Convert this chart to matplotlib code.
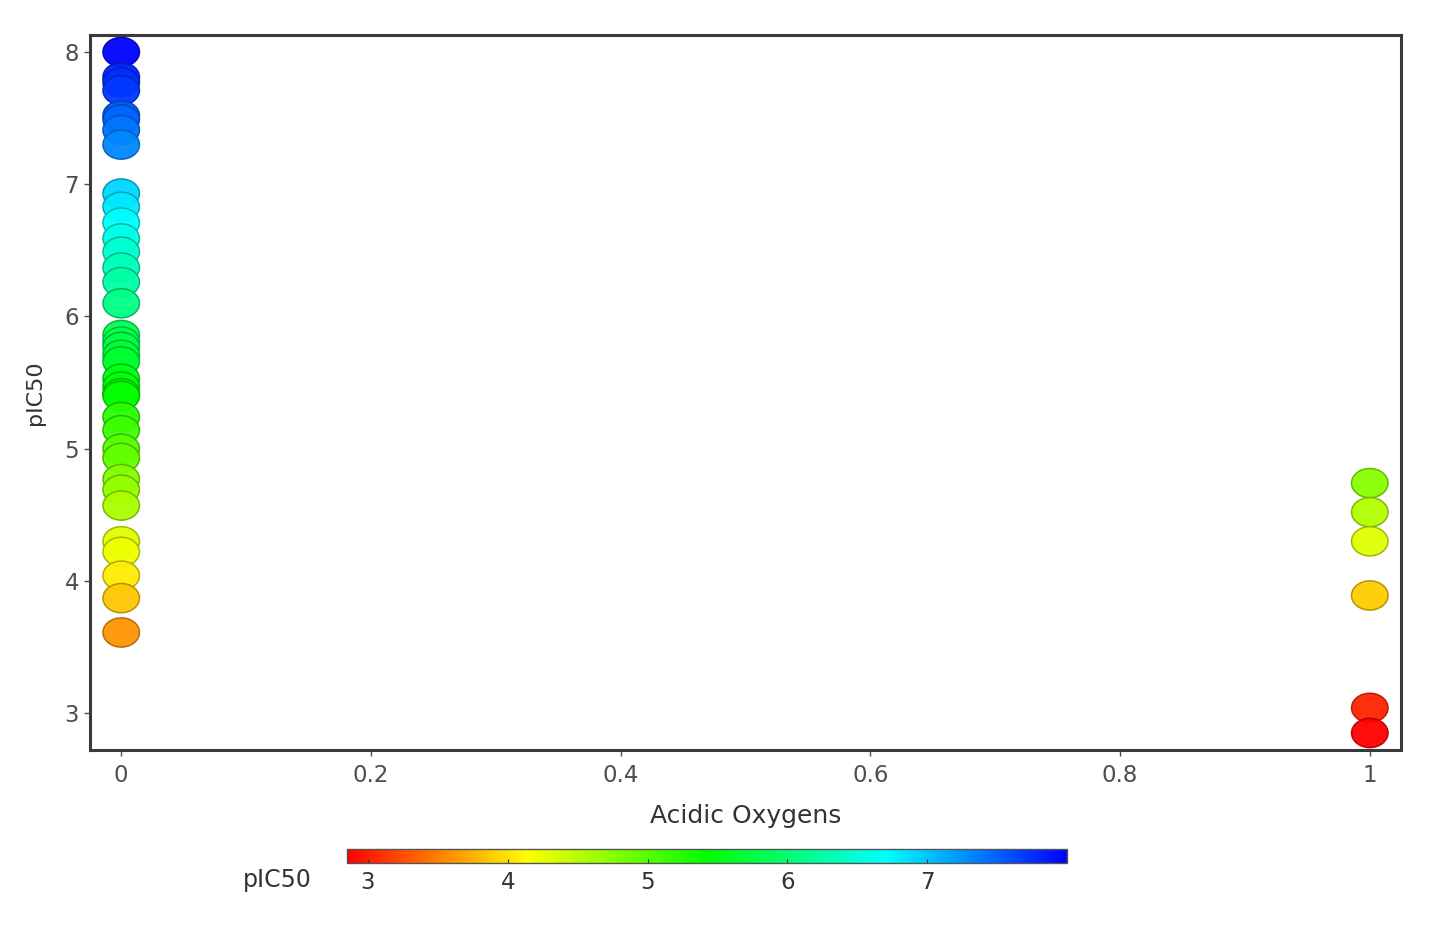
import numpy as np
import matplotlib
matplotlib.use("Agg")
import matplotlib.pyplot as plt
from matplotlib.colors import LinearSegmentedColormap, Normalize
from matplotlib.path import Path

# ---- data ----
x_left = 0
pic50_left = [8.00, 7.81, 7.77, 7.71, 7.52, 7.49, 7.41, 7.30,
              6.93, 6.83, 6.71, 6.59, 6.49, 6.37, 6.26, 6.10,
              5.86, 5.81, 5.77, 5.71, 5.66, 5.53, 5.47, 5.42, 5.40,
              5.24, 5.14, 5.00, 4.93, 4.77, 4.69, 4.57,
              4.30, 4.22, 4.04, 3.87, 3.61]
x_right = 1
pic50_right = [4.74, 4.52, 4.30, 3.89, 3.04, 2.85]

x_ticks = [0, 0.2, 0.4, 0.6, 0.8, 1]
x_tick_labels = ["0", "0.2", "0.4", "0.6", "0.8", "1"]
y_ticks = [3, 4, 5, 6, 7, 8]
cbar_ticks = [3, 4, 5, 6, 7]

x_vals = [x_left] * len(pic50_left) + [x_right] * len(pic50_right)
y_vals = pic50_left + pic50_right

plt.rcParams['font.family'] = ['DejaVu Sans']

cmap = LinearSegmentedColormap.from_list(
    "rainbow5", ["#FF0000", "#FFFF00", "#00FF00", "#00FFFF", "#0000FF"])
norm = Normalize(vmin=min(y_vals), vmax=max(y_vals))

fig = plt.figure(figsize=(14.5, 9.4), dpi=100)
W, H = 1450, 940
ax = fig.add_axes([90 / W, 1 - 750 / H, (1401 - 90) / W, (750 - 35) / H])

# ellipse marker
t = np.linspace(0, 2 * np.pi, 61)
ell = Path(np.column_stack([np.cos(t), 0.8 * np.sin(t)]), closed=True)

face = cmap(norm(np.array(y_vals)))
edge = face.copy()
edge[:, :3] = edge[:, :3] * 0.7
ax.scatter(x_vals, y_vals, c=face, edgecolors=edge, s=690, marker=ell,
           linewidths=1.1, alpha=0.95, zorder=3)

xr = max(x_vals) - min(x_vals)
yr = max(y_vals) - min(y_vals)
ax.set_xlim(min(x_vals) - 0.025 * xr, max(x_vals) + 0.025 * xr)
ax.set_ylim(min(y_vals) - 0.025 * yr, max(y_vals) + 0.025 * yr)

ax.set_xticks(x_ticks)
ax.set_xticklabels(x_tick_labels)
ax.set_yticks(y_ticks)
ax.tick_params(axis='both', colors='#4D4D4D', labelcolor='#4D4D4D',
               labelsize=16.5, length=4, width=1)
ax.tick_params(axis='x', pad=6)
ax.tick_params(axis='y', pad=4)
for sp in ax.spines.values():
    sp.set_color('#3A3A3A')
    sp.set_linewidth(2.2)

ax.set_xlabel("Acidic Oxygens", fontsize=18, color='#333333', labelpad=12)
ax.set_ylabel("pIC50", fontsize=16, color='#333333', labelpad=14)

# colorbar
cax = fig.add_axes([347 / W, 1 - 863 / H, (1067 - 347) / W, 14 / H])
sm = plt.cm.ScalarMappable(cmap=cmap, norm=norm)
cb = fig.colorbar(sm, cax=cax, orientation='horizontal')
cb.set_ticks(cbar_ticks)
cb.outline.set_edgecolor('#555555')
cb.outline.set_linewidth(1.0)
cax.tick_params(axis='x', colors='#333333', labelcolor='#333333',
                labelsize=16.5, length=3, width=0.8, direction='in', pad=6)
fig.text(277 / W, 1 - 880 / H, "pIC50", fontsize=17, color='#333333',
         ha='center', va='center')

fig.savefig("out.png", dpi=100, facecolor='white')
